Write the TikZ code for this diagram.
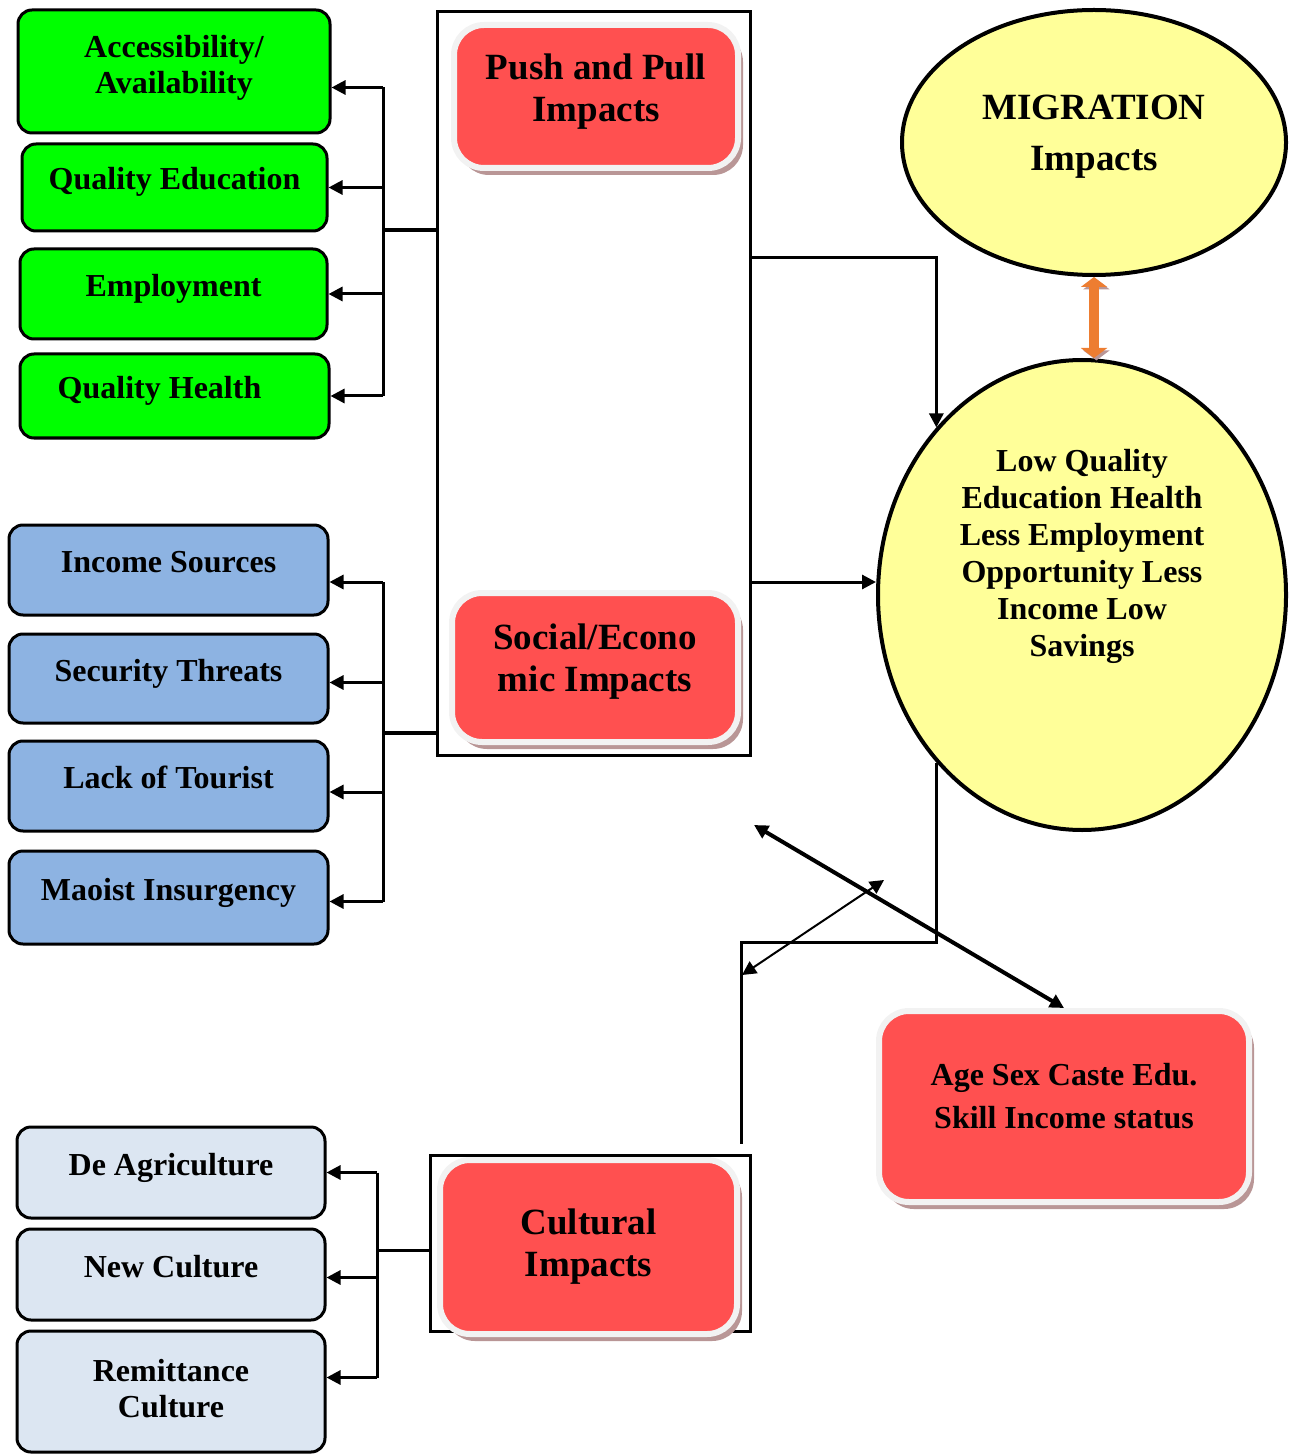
\documentclass[tikz,border=0pt]{standalone}
\usepackage{fontspec}
\setmainfont{Liberation Serif}
\usepackage{tikz}
\usetikzlibrary{arrows.meta,positioning,shadows,shapes.geometric}
\definecolor{greenfill}{HTML}{00FF00}
\definecolor{bluefill}{HTML}{8DB3E2}
\definecolor{palefill}{HTML}{DCE6F2}
\definecolor{redfill}{HTML}{FF5050}
\definecolor{redrim}{HTML}{F2F2F2}
\definecolor{redshadow}{HTML}{B99696}
\definecolor{yellowfill}{HTML}{FFFF99}
\definecolor{orangearrow}{HTML}{ED7D31}

\begin{document}
\begin{tikzpicture}[
    x=0.5pt, y=-0.5pt,
    every node/.style={font=\bfseries\fontsize{16}{18}\selectfont},
    sidebox/.style={
        rectangle,
        rounded corners=7pt,
        draw=black,
        line width=1.5pt,
        inner sep=2pt,
        align=center
    },
    oneline/.style={text height=11pt, text depth=8.5pt},
    redbox/.style={
        rectangle,
        rounded corners=15pt,
        fill=redfill,
        draw=redrim,
        line width=3pt,
        drop shadow={shadow xshift=2.5pt, shadow yshift=-3.5pt, fill=redshadow, opacity=1}
    },
    frame/.style={rectangle, draw=black, line width=1.5pt},
    oval/.style={
        ellipse,
        draw=black,
        line width=2pt,
        fill=yellowfill,
        inner sep=0pt
    },
    headtext/.style={align=center, font=\bfseries\fontsize{18.5}{21}\selectfont},
    arrow/.style={-{Triangle[length=7pt,width=7pt]}, line width=1.5pt},
    twoway/.style={{Triangle[length=7pt,width=7pt]}-{Triangle[length=7pt,width=7pt]}, line width=2pt},
    link/.style={line width=1.5pt}
]
    \useasboundingbox (0,0) rectangle (1292,1454);

    % === PUSH / SOCIAL FRAME ===
    \node[frame, minimum width=156.5pt, minimum height=371.5pt] (impactframe) at (593.5,383.5) {};

    \node[redbox, minimum width=142pt, minimum height=71.5pt] (push) at (596,96.5) {};
    \node[headtext] (pushtext) at ([yshift=2.5pt]push.center) {Push and Pull\\Impacts};

    \node[redbox, minimum width=143pt, minimum height=74.5pt] (soc) at (595,667.5) {};
    \node[headtext] (soctext) at ([yshift=3pt]soc.center) {Social/Econo\\mic Impacts};

    % === PUSH AND PULL FACTORS ===
    \node[sidebox, fill=greenfill, minimum width=156pt, minimum height=61.5pt] (acc) at (174,71.5) {Accessibility/\\Availability\rule[-7pt]{0pt}{0pt}};
    \node[sidebox, oneline, fill=greenfill, minimum width=152.5pt, minimum height=43.5pt] (qedu) at (174.5,187.5) {Quality Education};
    \node[sidebox, oneline, fill=greenfill, minimum width=153.5pt, minimum height=45pt] (emp) at (173.5,294) {Employment};
    \node[sidebox, oneline, fill=greenfill, minimum width=154.5pt, minimum height=42pt] (qhlth) at (174.5,396) {Quality Health\hspace*{15pt}};

    % Bracket from frame to green boxes
    \coordinate (greenjoin) at (383,230);
    \draw[link, line width=2pt] (impactframe.west |- greenjoin) -- (greenjoin);
    \draw[link] ([yshift=-8pt]greenjoin |- acc.east) -- (greenjoin |- qhlth.east);
    \draw[arrow] ([yshift=-8pt]greenjoin |- acc.east) -- ([yshift=-8pt]acc.east);
    \draw[arrow] (greenjoin |- qedu.east) -- (qedu.east);
    \draw[arrow] (greenjoin |- emp.east) -- (emp.east);
    \draw[arrow] (greenjoin |- qhlth.east) -- (qhlth.east);

    % === SOCIAL / ECONOMIC FACTORS ===
    \node[sidebox, oneline, fill=bluefill, minimum width=159.5pt, minimum height=45pt] (inc) at (168.5,570) {Income Sources};
    \node[sidebox, oneline, fill=bluefill, minimum width=159.5pt, minimum height=44.5pt] (sec) at (168.5,678.5) {Security Threats};
    \node[sidebox, oneline, fill=bluefill, minimum width=159.5pt, minimum height=45pt] (lack) at (168.5,786) {Lack of Tourist};
    \node[sidebox, oneline, fill=bluefill, minimum width=159.5pt, minimum height=46.5pt] (mao) at (168.5,897.5) {Maoist Insurgency};

    % Bracket from frame to blue boxes
    \coordinate (bluejoin) at (383,733);
    \draw[link, line width=2pt] (impactframe.west |- bluejoin) -- (bluejoin);
    \draw[link] ([yshift=-6pt]bluejoin |- inc.east) -- ([yshift=-2pt]bluejoin |- mao.east);
    \draw[arrow] ([yshift=-6pt]bluejoin |- inc.east) -- ([yshift=-6pt]inc.east);
    \draw[arrow] ([yshift=-2pt]bluejoin |- sec.east) -- ([yshift=-2pt]sec.east);
    \draw[arrow] ([yshift=-3pt]bluejoin |- lack.east) -- ([yshift=-3pt]lack.east);
    \draw[arrow] ([yshift=-2pt]bluejoin |- mao.east) -- ([yshift=-2pt]mao.east);

    % === MIGRATION ===
    \node[oval, minimum width=192pt, minimum height=132.5pt] (mig) at (1094,142.5) {};
    \node[align=center, font=\bfseries\fontsize{18.5}{25.5}\selectfont] (migtext) at ([yshift=3pt]mig.center) {MIGRATION\\Impacts};

    \node[oval, minimum width=204pt, minimum height=235pt] (lowq) at (1082,595) {};
    \node[align=center, font=\bfseries\fontsize{16}{18.5}\selectfont] (lowqtext) at ([yshift=19.5pt]lowq.center) {Low Quality\\Education Health\\Less Employment\\Opportunity Less\\Income Low\\Savings};

    % Orange arrow between the ovals
    \draw[{Triangle[length=5pt,width=13pt]}-{Triangle[length=5pt,width=13pt]}, line width=5pt, draw=orangearrow,
          preaction={draw=redshadow, transform canvas={xshift=1.2pt, yshift=-1.2pt}}]
        (mig.south) -- (mig.south |- lowq.north);

    % Arrows from frame to lowq
    \coordinate (pushout) at (impactframe.east |- 0,258);
    \coordinate (socout) at (impactframe.east |- 0,582);
    \draw[arrow] (pushout) -| (lowq.north west);
    \draw[arrow] (socout) -- (socout -| lowq.west);

    % === AGE SEX CASTE ===
    \node[redbox, minimum width=185pt, minimum height=95.5pt] (agebox) at (1064,1106.5) {};
    \node[align=center, font=\bfseries\fontsize{16}{21.5}\selectfont] (agetext) at ([yshift=5pt]agebox.center) {Age Sex Caste Edu.\\Skill Income status};

    % === CULTURAL ===
    \node[frame, minimum width=160pt, minimum height=88pt] (cultframe) at (590,1243) {};
    \node[redbox, minimum width=148.5pt, minimum height=87pt] (cult) at (588.5,1247) {};
    \node[headtext] (culttext) at (cult.center) {Cultural\\Impacts};

    \node[sidebox, oneline, fill=palefill, minimum width=154pt, minimum height=45.5pt] (deag) at (171,1172.5) {De Agriculture};
    \node[sidebox, oneline, fill=palefill, minimum width=154pt, minimum height=45.5pt] (newc) at (171,1274.5) {New Culture};
    \node[sidebox, fill=palefill, minimum width=154pt, minimum height=60.5pt] (remit) at (171,1391.5) {Remittance\\Culture\rule[-3.5pt]{0pt}{0pt}};

    % Bracket from cultural frame to pale boxes
    \coordinate (paljoin) at (377,1250);
    \draw[link] (cultframe.west |- paljoin) -- (paljoin);
    \draw[link] (paljoin |- deag.east) -- ([yshift=7pt]paljoin |- remit.east);
    \draw[arrow] (paljoin |- deag.east) -- (deag.east);
    \draw[arrow] ([yshift=-1.5pt]paljoin |- newc.east) -- ([yshift=-1.5pt]newc.east);
    \draw[arrow] ([yshift=7pt]paljoin |- remit.east) -- ([yshift=7pt]remit.east);

    % Line from lowq down to cultural frame
    \coordinate (cultbend) at (741,942);
    \draw[link, shorten >=5pt] (lowq.south west) |- (cultbend) -- (cultbend |- cultframe.north);

    % Crossing two-way arrows
    \coordinate (crossa) at (754,825);
    \coordinate (crossb) at (742,975);
    \coordinate (crossc) at (884,880);
    \draw[twoway] (crossa) -- (agebox.north);
    \draw[twoway, line width=1pt] (crossb) -- (crossc);
\end{tikzpicture}
\end{document}
